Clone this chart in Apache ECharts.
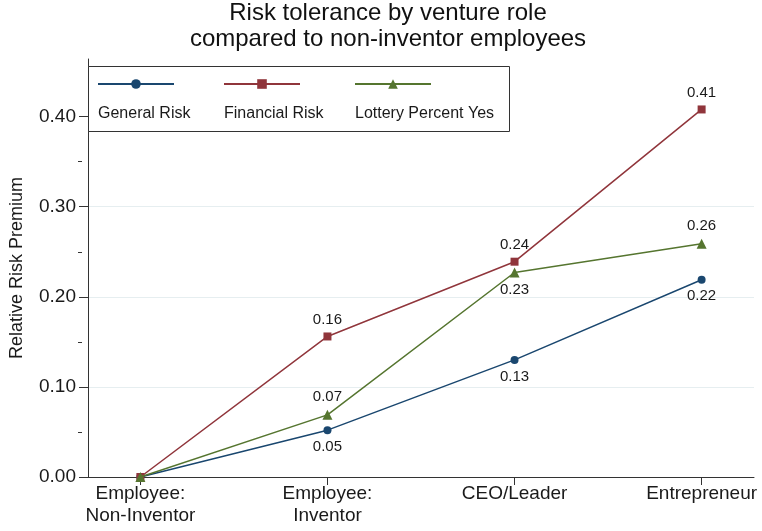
<!DOCTYPE html>
<html>
<head>
<meta charset="utf-8">
<script src="https://cdn.jsdelivr.net/npm/echarts@6/dist/echarts.min.js"></script>
<style>html,body{margin:0;padding:0;background:#fff}#c{width:762px;height:531px}</style>
</head>
<body>
<div id="c"></div>
<script>
const categories = ['Employee:\nNon-Inventor', 'Employee:\nInventor', 'CEO/Leader', 'Entrepreneur'];
const seriesNames = ['General Risk', 'Financial Risk', 'Lottery Percent Yes'];
const generalRisk = [0, 0.052, 0.130, 0.219];
const financialRisk = [0, 0.156, 0.239, 0.408];
const lotteryYes = [0, 0.069, 0.227, 0.259];
const yTicks = [0, 0.1, 0.2, 0.3, 0.4];
const yMinorTicks = [0.05, 0.15, 0.25, 0.35];
const xTicks = [0, 1, 2, 3];

const colors = ['#1a476f', '#90353b', '#55752f'];
const symbols = ['circle', 'rect', 'triangle'];
const symbolSizes = [8, 8, 10];
const labelPositions = [
  ['bottom', 'bottom', 'bottom', 'bottom'],
  ['top', 'top', 'top', 'top'],
  ['top', 'top', 'bottom', 'top']
];
const values = [generalRisk, financialRisk, lotteryYes];
const FONT = 'Liberation Sans, Arial, sans-serif';
const Y_MAX = 0.464;

const chart = echarts.init(document.getElementById('c'));

const series = values.map((vals, s) => ({
  name: seriesNames[s],
  type: 'line',
  xAxisIndex: 0,
  yAxisIndex: 0,
  data: vals.map((v, i) => ({
    value: [i, v],
    label: {show: i > 0, position: labelPositions[s][i]}
  })),
  symbol: symbols[s],
  symbolSize: symbolSizes[s],
  showAllSymbol: true,
  color: colors[s],
  lineStyle: {width: 1.5, color: colors[s]},
  itemStyle: {color: colors[s]},
  label: {
    distance: 5,
    fontFamily: FONT,
    fontSize: 15,
    color: '#1a1a1a',
    formatter: p => p.value[1].toFixed(2)
  },
  z: 3 + s,
  animation: false
}));

const legendLefts = [97, 223, 354];
const legends = [];
seriesNames.forEach((n, i) => {
  legends.push({
    data: [n],
    left: legendLefts[i],
    top: 78,
    padding: 0,
    itemWidth: 76,
    itemHeight: 12,
    selectedMode: false,
    formatter: () => '',
    textStyle: {fontSize: 1}
  });
  legends.push({
    data: [n],
    left: legendLefts[i] - 4,
    top: 106,
    padding: 0,
    itemWidth: 0,
    itemHeight: 0,
    icon: 'rect',
    selectedMode: false,
    textStyle: {fontFamily: FONT, fontSize: 16, color: '#1a1a1a', padding: 0}
  });
});

const option = {
  animation: false,
  backgroundColor: '#ffffff',
  title: {
    text: 'Risk tolerance by venture role\ncompared to non-inventor employees',
    left: 388,
    top: 0,
    padding: 0,
    textAlign: 'center',
    textStyle: {fontFamily: FONT, fontSize: 24, fontWeight: 'normal', color: '#111', lineHeight: 26}
  },
  legend: legends,
  graphic: [{
    type: 'rect',
    shape: {x: 88.5, y: 66.5, width: 421, height: 65},
    style: {fill: '#ffffff', stroke: '#333333', lineWidth: 1},
    z: 3
  }],
  grid: [
    {left: 82, right: 8, top: 59, bottom: 54},
    {left: 82, right: 8, top: 59, bottom: 54}
  ],
  xAxis: [{
    type: 'value',
    gridIndex: 0,
    min: -0.28,
    max: 3.28,
    axisLine: {show: true, onZero: false, lineStyle: {color: '#333', width: 1}},
    axisTick: {show: true, customValues: xTicks, length: 8, lineStyle: {color: '#333'}},
    axisLabel: {
      show: true,
      customValues: xTicks,
      margin: 6,
      fontFamily: FONT,
      fontSize: 19,
      lineHeight: 22,
      color: '#1a1a1a',
      formatter: v => categories[Math.round(v)]
    },
    splitLine: {show: false}
  }, {
    type: 'value',
    gridIndex: 1,
    min: -0.28,
    max: 3.28,
    show: false
  }],
  yAxis: [{
    type: 'value',
    gridIndex: 0,
    min: 0,
    max: Y_MAX,
    interval: 0.1,
    name: 'Relative Risk Premium',
    nameLocation: 'middle',
    nameGap: 62,
    nameTextStyle: {fontFamily: FONT, fontSize: 18, color: '#1a1a1a'},
    axisLine: {show: true, onZero: false, lineStyle: {color: '#333', width: 1}},
    axisTick: {show: true, customValues: yTicks, length: 9, lineStyle: {color: '#333'}},
    axisLabel: {
      show: true,
      customValues: yTicks,
      margin: 12,
      fontFamily: FONT,
      fontSize: 19,
      color: '#1a1a1a',
      formatter: v => v.toFixed(2)
    },
    splitLine: {show: true, showMinLine: false, showMaxLine: false, lineStyle: {color: '#e6eef0', width: 1}}
  }, {
    type: 'value',
    gridIndex: 1,
    min: 0,
    max: Y_MAX,
    axisLine: {show: false, onZero: false},
    axisTick: {show: true, customValues: yMinorTicks, length: 4, lineStyle: {color: '#333'}},
    axisLabel: {show: false},
    splitLine: {show: false}
  }],
  series: series
};
chart.setOption(option);
</script>
</body>
</html>
